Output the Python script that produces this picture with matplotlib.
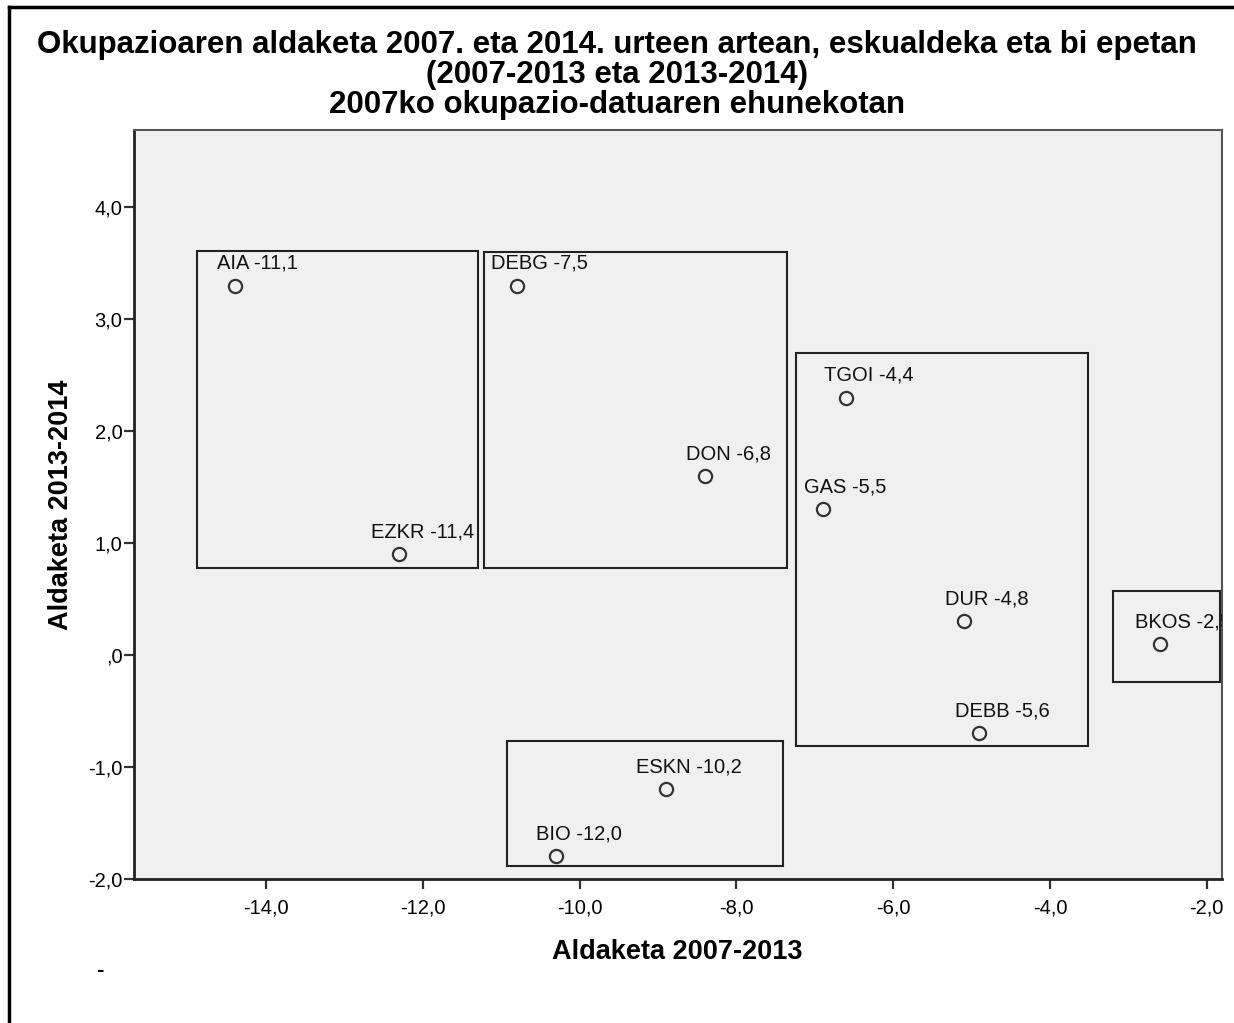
import matplotlib
matplotlib.use('Agg')
import matplotlib.pyplot as plt
from matplotlib.patches import Rectangle
from matplotlib.ticker import FuncFormatter

plt.rcParams['font.family'] = ['Liberation Sans', 'DejaVu Sans']

# eskualdeak: izena, aldaketa 2007-2013, aldaketa 2013-2014, etiketa
names = ['AIA', 'EZKR', 'DEBG', 'DON', 'TGOI', 'GAS', 'DUR', 'DEBB', 'BKOS', 'ESKN', 'BIO']
labels = ['AIA -11,1', 'EZKR -11,4', 'DEBG -7,5', 'DON -6,8', 'TGOI -4,4', 'GAS -5,5',
          'DUR -4,8', 'DEBB -5,6', 'BKOS -2,5', 'ESKN -10,2', 'BIO -12,0']
chg_0713 = [-14.4, -12.3, -10.8, -8.4, -6.6, -6.9, -5.1, -4.9, -2.6, -8.9, -10.3]
chg_1314 = [3.3, 0.9, 3.3, 1.6, 2.3, 1.3, 0.3, -0.7, 0.1, -1.2, -1.8]

# taldeen laukiak (x0, x1, y0, y1)
groups = [(-14.88, -11.30, 0.775, 3.61),
          (-11.22, -7.36, 0.775, 3.60),
          (-7.24, -3.52, -0.814, 2.695),
          (-3.20, -1.83, -0.24, 0.57),
          (-10.93, -7.41, -1.89, -0.77)]

xticks = [-14, -12, -10, -8, -6, -4, -2]
yticks = [-2, -1, 0, 1, 2, 3, 4]


def spss_fmt(v, pos=None):
    s = '%.1f' % v
    s = s.replace('.', ',')
    if s.startswith('0,'):
        s = s[1:]
    elif s.startswith('-0,'):
        s = s[2:]
    return s


fig = plt.figure(figsize=(12.34, 10.23), dpi=100)
fig.patch.set_facecolor('white')

# kanpoko markoa (goian eta ezkerrean)
fig.add_artist(plt.Line2D([9/1234, 9/1234], [0, 1 - 7/1023], color='black', lw=2.5,
                          transform=fig.transFigure))
fig.add_artist(plt.Line2D([9/1234, 1], [1 - 7/1023, 1 - 7/1023], color='black', lw=2.5,
                          transform=fig.transFigure))

ax = fig.add_axes([133.6/1234, 144.2/1023, (1221.7-133.6)/1234, (878.8-130)/1023])
ax.set_facecolor('#f0f0f0')
ax.set_xlim(-15.69, -1.81)
ax.set_ylim(-2.0, 4.69)

for x0, x1, y0, y1 in groups:
    ax.add_patch(Rectangle((x0, y0), x1 - x0, y1 - y0, fill=False,
                           edgecolor='#222222', lw=1.5, zorder=2))

ax.plot(chg_0713, chg_1314, 'o', ms=9.5, mfc='none', mec='#333333', mew=1.6, zorder=3)

for x, y, lab in zip(chg_0713, chg_1314, labels):
    ax.annotate(lab, (x, y), xytext=(16.5, 16), textcoords='offset points',
                ha='center', va='center', fontsize=14.5, color='#111111',
                annotation_clip=True, clip_on=True, zorder=4)

ax.set_xticks(xticks)
ax.set_yticks(yticks)
ax.xaxis.set_major_formatter(FuncFormatter(spss_fmt))
ax.yaxis.set_major_formatter(FuncFormatter(spss_fmt))
ax.tick_params(axis='both', direction='out', length=7, width=1.6, labelsize=14.5,
               color='#333333')
ax.tick_params(axis='x', pad=7)
ax.tick_params(axis='y', pad=1)

for side in ['left', 'bottom']:
    ax.spines[side].set_linewidth(2)
    ax.spines[side].set_color('#222222')
for side in ['top', 'right']:
    ax.spines[side].set_linewidth(1.5)
    ax.spines[side].set_color('#555555')

ax.set_xlabel('Aldaketa 2007-2013', fontsize=19.5, fontweight='bold', labelpad=16)
ax.set_ylabel('Aldaketa 2013-2014', fontsize=19.5, fontweight='bold', labelpad=10)

fig.text(0.5, 1 - 45/1023, 'Okupazioaren aldaketa 2007. eta 2014. urteen artean, eskualdeka eta bi epetan',
         ha='center', va='center', fontsize=22.5, fontweight='bold')
fig.text(0.5, 1 - 75/1023, '(2007-2013 eta 2013-2014)',
         ha='center', va='center', fontsize=22.5, fontweight='bold')
fig.text(0.5, 1 - 105/1023, '2007ko okupazio-datuaren ehunekotan',
         ha='center', va='center', fontsize=22.5, fontweight='bold')

fig.text(100/1234, 1 - 971/1023, '-', ha='center', va='center', fontsize=16, fontweight='bold')

fig.savefig('out.png', dpi=100)
